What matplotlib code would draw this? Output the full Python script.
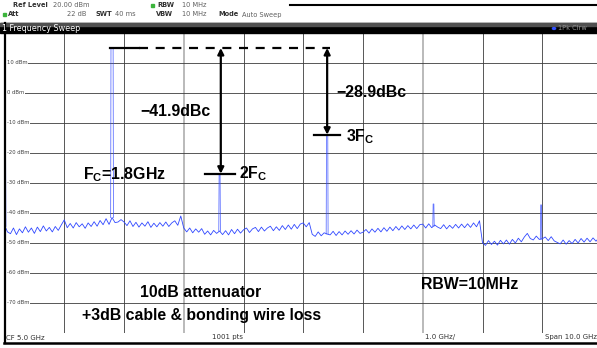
import numpy as np
import matplotlib as mpl

mpl.use("Agg")
import matplotlib.pyplot as plt
from matplotlib.lines import Line2D
from matplotlib.patches import Rectangle

# sweep settings
span_ghz = 10.0
ref_level = 20.0
db_per_div = 10.0
step_ghz = 0.05

# noise floor, one value per 50 MHz (0 .. 10 GHz)
noise_0_1 = [-44.0, -46.3, -46.9, -45.0, -47.2, -45.3, -46.6, -44.6, -46.4, -45.0,
             -46.8, -44.7, -46.2, -44.3, -46.0, -44.8, -46.3, -44.5, -45.8, -44.0]
noise_1_2 = [-42.3, -44.9, -43.5, -45.0, -43.2, -44.6, -43.6, -45.1, -43.3, -44.5,
             -42.9, -44.4, -42.5, -43.9, -41.9, -43.8, -41.5, -43.2, -43.0, -42.2]
noise_2_3 = [-43.0, -44.2, -42.6, -44.5, -43.1, -44.7, -43.3, -44.4, -42.9, -44.8,
             -43.4, -44.6, -43.2, -44.4, -43.0, -44.5, -43.3, -42.6, -44.1, -41.0]
noise_3_4 = [-45.0, -46.3, -45.0, -46.6, -45.3, -46.4, -45.2, -47.1, -46.0, -47.3,
             -45.8, -46.8, -46.0, -47.2, -45.9, -47.3, -45.5, -46.9, -45.4, -46.7]
noise_4_5 = [-45.6, -45.0, -46.5, -45.3, -44.8, -46.2, -44.7, -46.0, -45.0, -44.4,
             -45.9, -44.6, -45.8, -44.2, -45.5, -44.0, -45.4, -43.8, -45.2, -43.7]
noise_5_6 = [-43.3, -44.6, -43.2, -47.1, -47.8, -46.3, -47.6, -46.6, -47.0, -47.3,
             -46.1, -47.5, -46.2, -47.3, -46.0, -47.1, -45.9, -47.0, -45.7, -46.8]
noise_6_7 = [-46.4, -45.5, -46.7, -45.3, -46.4, -45.1, -46.3, -44.9, -46.1, -44.7,
             -45.9, -44.5, -45.7, -44.3, -45.5, -44.2, -45.3, -44.0, -45.2, -43.9]
noise_7_8 = [-43.7, -45.0, -43.6, -44.9, -44.0, -44.7, -45.2, -43.9, -45.3, -44.1,
             -45.1, -43.8, -45.0, -43.7, -44.9, -43.6, -44.8, -43.3, -44.6, -42.6]
noise_8_9 = [-49.9, -50.8, -49.2, -50.5, -49.4, -50.7, -49.1, -50.3, -49.0, -50.4,
             -48.8, -50.0, -48.4, -49.6, -48.0, -46.8, -48.5, -49.0, -47.7, -48.8]
noise_9_10 = [-48.6, -48.0, -49.2, -47.9, -49.3, -49.8, -50.3, -49.0, -50.4, -49.2,
              -50.2, -48.8, -50.0, -48.5, -49.7, -48.4, -49.6, -48.3, -49.4, -48.2, -48.9]

# discrete tones: LO feedthrough, fundamental, harmonics, spurs
peak_freq = [0.01, 1.80, 3.60, 5.40, 7.18, 8.98]
peak_level = [-21.3, 15.0, -26.9, -13.9, -37.0, -37.3]
peak_halfwidth = [0.008, 0.018, 0.008, 0.010, 0.006, 0.006]

# harmonic annotations
fund_idx, h2_idx, h3_idx = 1, 2, 3
dbc_h2 = "\u221241.9dBc"
dbc_h3 = "\u221228.9dBc"

header_line1 = [("Ref Level", True, 13), ("20.00 dBm", False, 53),
                ("RBW", True, 157), ("10 MHz", False, 182)]
header_line2 = [("Att", True, 8), ("22 dB", False, 67), ("SWT", True, 95),
                ("40 ms", False, 115), ("VBW", True, 156), ("10 MHz", False, 182),
                ("Mode", True, 218), ("Auto Sweep", False, 242)]

W, H = 597, 348
plt.rcParams["lines.scale_dashes"] = False
plt.rcParams["mathtext.fontset"] = "custom"
plt.rcParams["mathtext.rm"] = "Liberation Sans:bold"
plt.rcParams["mathtext.it"] = "Liberation Sans:bold"
plt.rcParams["mathtext.bf"] = "Liberation Sans:bold"

fig = plt.figure(figsize=(W / 100, H / 100), dpi=100)
fig.patch.set_facecolor("white")


def fx(x):
    return x / W


def fy(y):
    return 1 - y / H


# plot area in pixels
x0, x1 = 4.5, 602.0
y_top, y_bot = 33.0, 333.0
ax = fig.add_axes([fx(x0), fy(y_bot), (x1 - x0) / W, (y_bot - y_top) / H])
ax.set_xlim(0, span_ghz)
ax.set_ylim(ref_level - 10 * db_per_div, ref_level)
for s in ax.spines.values():
    s.set_visible(False)
ax.set_xticks([])
ax.set_yticks([])

grid_col = "#3c3c3c"
for v in np.arange(1, 10):
    if v in (3, 7):
        ax.axvline(v, color="#b4b4b4", lw=1.3, zorder=1)
    else:
        ax.axvline(v, color=grid_col, lw=0.6, zorder=1)
for lev in np.arange(10, -80, -10):
    ax.axhline(lev, color=grid_col, lw=0.6, zorder=1)
    ax.text(0.04, lev, f"{lev:.0f} dBm", fontsize=3.8, color="#404040",
            va="center", ha="left", zorder=2,
            bbox=dict(boxstyle="square,pad=0.15", fc="white", ec="none"))

# trace
noise = np.array(noise_0_1 + noise_1_2 + noise_2_3 + noise_3_4 + noise_4_5 +
                 noise_5_6 + noise_6_7 + noise_7_8 + noise_8_9 + noise_9_10)
freq = np.arange(len(noise)) * step_ghz
trace_col = "#3048ff"
ax.plot(freq, noise, color=trace_col, lw=0.6, zorder=3)
for f, lv, hw in zip(peak_freq, peak_level, peak_halfwidth):
    base = np.interp(f, freq, noise)
    ax.plot([f - hw - 0.006, f - hw, f + hw, f + hw + 0.006],
            [base, lv, lv, base], color=trace_col, lw=0.6, alpha=0.75, zorder=3)

# annotations
f1, l1 = peak_freq[fund_idx], peak_level[fund_idx]
f2, l2 = peak_freq[h2_idx], peak_level[h2_idx]
f3, l3 = peak_freq[h3_idx], peak_level[h3_idx]
ax.plot([f1 - 0.03, 2.25], [l1, l1], color="k", lw=1.6, zorder=5)
ax.plot([2.25, f3 + 0.05], [l1, l1], color="k", lw=1.6, ls=(0, (6.5, 5.5)), zorder=5)
ax.plot([f2 - 0.25, f2 + 0.25], [l2, l2], color="k", lw=1.6, zorder=5)
ax.plot([f3 - 0.22, f3 + 0.22], [l3, l3], color="k", lw=1.6, zorder=5)
for f, lv in ((f2 + 0.02, l2), (f3, l3)):
    ax.annotate("", xy=(f, lv), xytext=(f, l1),
                arrowprops=dict(arrowstyle="<|-|>", lw=1.6, color="k",
                                mutation_scale=9, shrinkA=0, shrinkB=0),
                zorder=6)

bold = dict(family="Liberation Sans", weight="bold", color="k", zorder=7)
ax.text(2.28, -6.3, dbc_h2, fontsize=11.4, ha="left", va="center", **bold)
ax.text(5.55, 0.2, dbc_h3, fontsize=11.4, ha="left", va="center", **bold)
ax.text(f2 + 0.33, l2, "2F$_\\mathrm{C}$", fontsize=11.4, ha="left", va="center", **bold)
ax.text(f3 + 0.32, l3 - 0.6, "3F$_\\mathrm{C}$", fontsize=11.4, ha="left", va="center", **bold)
ax.text(1.32, -27.3, "F$_\\mathrm{C}$=1.8GHz", fontsize=11.4, ha="left", va="center", **bold)
ax.text(3.28, -66.5, "10dB attenuator", fontsize=11.4, ha="center", va="center", **bold)
ax.text(3.3, -74.2, "+3dB cable & bonding wire loss", fontsize=11.4,
        ha="center", va="center", **bold)
ax.text(7.79, -63.8, "RBW=10MHz", fontsize=11.4, ha="center", va="center", **bold)

# header
hdr = dict(fontsize=4.8, va="center", ha="left")
for txt, b, xp in header_line1:
    fig.text(fx(xp), fy(5), txt, color="#303030" if b else "#606060",
             weight="bold" if b else "normal", **hdr)
for txt, b, xp in header_line2:
    fig.text(fx(xp), fy(14.5), txt, color="#303030" if b else "#606060",
             weight="bold" if b else "normal", **hdr)
fig.add_artist(Rectangle((fx(151), fy(6.5)), 3 / W, 3 / H, color="#3cb43c",
                         transform=fig.transFigure))
fig.add_artist(Rectangle((fx(3), fy(16)), 3 / W, 3 / H, color="#3cb43c",
                         transform=fig.transFigure))
fig.add_artist(Line2D([fx(290), 1], [fy(5), fy(5)], color="k", lw=1.5,
                      transform=fig.transFigure))

# title bar
fig.add_artist(Rectangle((fx(0), fy(33)), 1, 10 / H, color="black",
                         transform=fig.transFigure))
fig.add_artist(Rectangle((fx(0), fy(26)), 1, 3 / H, color="#505050",
                         transform=fig.transFigure))
fig.text(fx(2), fy(28.5), "1 Frequency Sweep", color="white", fontsize=5.8,
         va="center", ha="left")
fig.text(fx(558), fy(28.5), "1Pk Clrw", color="#909090", fontsize=4.8,
         va="center", ha="left")
fig.add_artist(plt.Circle((fx(554), fy(28.5)), 1.6 / W, color="#3050ff",
                          transform=fig.transFigure))

# frame
fig.add_artist(Line2D([fx(5), fx(5)], [fy(23), fy(343)], color="k", lw=1.6,
                      transform=fig.transFigure))
fig.add_artist(Line2D([fx(4), 1], [fy(343), fy(343)], color="k", lw=1.8,
                      transform=fig.transFigure))

# footer
ftr = dict(fontsize=5.0, color="#303030", va="center")
fig.text(fx(6), fy(337.5), "CF 5.0 GHz", ha="left", **ftr)
fig.text(fx(228), fy(337.5), "1001 pts", ha="center", **ftr)
fig.text(fx(440), fy(337.5), "1.0 GHz/", ha="center", **ftr)
fig.text(fx(597), fy(337.5), "Span 10.0 GHz", ha="right", **ftr)

fig.savefig("out.png", dpi=100)
plt.close(fig)
